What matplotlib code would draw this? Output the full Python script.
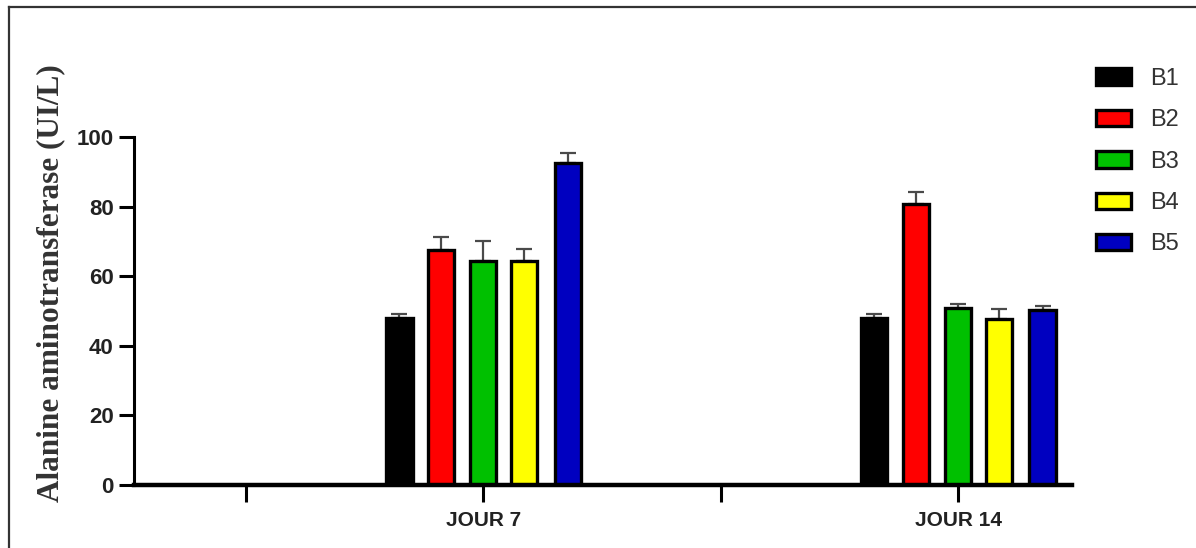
import matplotlib
matplotlib.use("Agg")
import matplotlib.pyplot as plt
from matplotlib.patches import Patch
from matplotlib.lines import Line2D
from matplotlib import font_manager
import numpy as np

# ---- data ----
categories = ["", "JOUR 7", "", "JOUR 14"]
groups = ["B1", "B2", "B3", "B4", "B5"]
colors = ["#000000", "#FF0000", "#00C000", "#FFFF00", "#0000C0"]
# values for JOUR 7 and JOUR 14 (categories 1 and 3)
values = {
    "B1": [48.0, 48.0],
    "B2": [67.6, 80.7],
    "B3": [64.5, 50.9],
    "B4": [64.5, 47.7],
    "B5": [92.4, 50.3],
}
errors = {
    "B1": [1.0, 1.0],
    "B2": [3.7, 3.6],
    "B3": [5.5, 1.1],
    "B4": [3.2, 3.0],
    "B5": [3.0, 1.1],
}
data_cats = [1, 3]
yticks = [0, 20, 40, 60, 80, 100]
ylabel = "Alanine aminotransferase (UI/L)"

# ---- fonts ----
avail = {f.name for f in font_manager.fontManager.ttflist}
narrow = "Liberation Sans Narrow" if "Liberation Sans Narrow" in avail else "Liberation Sans"

W, H = 1196, 548
fig = plt.figure(figsize=(W / 100, H / 100), dpi=100)
ax = fig.add_axes([134 / W, (H - 485) / H, (1072 - 134) / W, (485 - 137) / H])

offsets = np.array([-0.352, -0.176, 0.0, 0.172, 0.356])
width = 0.11
xc = np.array(data_cats, dtype=float)
for i, g in enumerate(groups):
    xs = xc + offsets[i]
    ax.bar(xs, values[g], width=width, color=colors[i], edgecolor="black",
           linewidth=2.4, zorder=3)
    ax.errorbar(xs, values[g], yerr=[np.zeros(len(xs)), errors[g]], fmt="none",
                ecolor="#4a4a4a", elinewidth=1.6, capsize=6, capthick=1.6,
                zorder=2)

ax.set_xlim(-0.47, 3.48)
ax.set_ylim(0, 100)
ax.set_xticks(range(len(categories)))
ax.set_xticklabels(categories, fontfamily=narrow, fontweight="bold",
                   fontsize=15, color="#222222")
ax.set_yticks(yticks)
ax.set_yticklabels([str(v) for v in yticks], fontfamily="Liberation Sans",
                   fontweight="bold", fontsize=16, color="#222222")
ax.tick_params(axis="y", length=11, width=2.2, pad=3.5, color="black")
ax.tick_params(axis="x", length=12, width=2.2, pad=7, color="black")

for s in ["top", "right"]:
    ax.spines[s].set_visible(False)
ax.spines["left"].set_linewidth(2.2)
ax.spines["bottom"].set_linewidth(3.2)
ax.spines["bottom"].set_zorder(4)

fig.text(51 / W, 1 - 283 / H, ylabel, rotation=90, ha="center", va="center",
         fontfamily="Liberation Serif", fontweight="bold", fontsize=22.5,
         color="#333333")

handles = [Patch(facecolor=c, edgecolor="black", linewidth=2.4) for c in colors]
leg = fig.legend(handles, groups, loc="upper left",
                 bbox_to_anchor=(1096 / W, 1 - 68 / H),
                 frameon=False, borderpad=0, borderaxespad=0,
                 handlelength=1.5, handleheight=0.7, handletextpad=0.8,
                 labelspacing=0.82,
                 prop={"family": "Liberation Sans", "size": 17})
for t in leg.get_texts():
    t.set_color("#333333")

# outer frame (left and top edges visible)
fig.add_artist(Line2D([9 / W, 9 / W], [0, 1 - 7 / H], transform=fig.transFigure,
                      color="#333333", linewidth=1.6))
fig.add_artist(Line2D([9 / W, 1], [1 - 7 / H, 1 - 7 / H], transform=fig.transFigure,
                      color="#333333", linewidth=1.6))

fig.savefig("out.png", dpi=100)
